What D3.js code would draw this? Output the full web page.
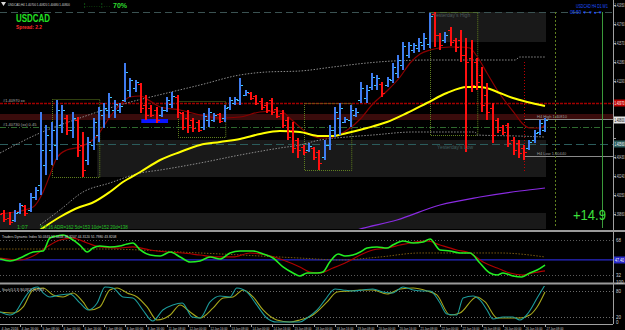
<!DOCTYPE html>
<html><head><meta charset="utf-8">
<script src="https://cdn.jsdelivr.net/npm/d3@7"></script>
<style>html,body{margin:0;padding:0;background:#000;overflow:hidden}svg{display:block;font-family:'Liberation Sans',Arial,sans-serif}</style>
</head><body>
<svg id="c" width="625" height="330"></svg>
<script>
// ---------------- DATA ----------------
const opens=[1.3991,1.3987,1.3982,1.3980,1.3988,1.3994,1.3990,1.4003,1.4015,1.4035,
1.4050,1.4055,1.4075,1.4082,1.4070,1.4080,1.4055,1.4040,1.4055,1.4065,
1.4085,1.4090,1.4090,1.4090,1.4100,1.4110,1.4112,1.4116,1.4095,1.4092,
1.4090,1.4085,1.4090,1.4096,1.4103,1.4087,1.4082,1.4080,1.4078,1.4073,
1.4080,1.4080,1.4086,1.4082,1.4093,1.4097,1.4100,1.4105,1.4107,1.4104,
1.4099,1.4095,1.4100,1.4091,1.4087,1.4080,1.4070,1.4060,1.4053,1.4050,
1.4052,1.4048,1.4043,1.4055,1.4070,1.4082,1.4078,1.4080,1.4085,1.4100,
1.4102,1.4113,1.4115,1.4116,1.4115,1.4120,1.4127,1.4135,1.4145,1.4150,
1.4152,1.4155,1.4156,1.4186,1.4165,1.4160,1.4170,1.4160,1.4160,1.4145,
1.4142,1.4138,1.4125,1.4105,1.4092,1.4080,1.4073,1.4075,1.4060,1.4057,
1.4052,1.4052,1.4060,1.4068,1.4070];
const highs=[1.3992,1.3990,1.3988,1.3990,1.3997,1.3995,1.4007,1.4013,1.4088,1.4075,
1.4078,1.4100,1.4095,1.4085,1.4088,1.4083,1.4068,1.4063,1.4082,1.4093,
1.4097,1.4107,1.4100,1.4097,1.4137,1.4122,1.4120,1.4117,1.4105,1.4095,
1.4093,1.4093,1.4103,1.4108,1.4105,1.4088,1.4090,1.4082,1.4080,1.4087,
1.4092,1.4087,1.4087,1.4095,1.4103,1.4103,1.4122,1.4110,1.4108,1.4105,
1.4102,1.4098,1.4102,1.4093,1.4090,1.4083,1.4078,1.4062,1.4055,1.4057,
1.4053,1.4050,1.4060,1.4075,1.4093,1.4097,1.4083,1.4095,1.4092,1.4118,
1.4115,1.4127,1.4125,1.4118,1.4123,1.4137,1.4145,1.4158,1.4158,1.4157,
1.4162,1.4167,1.4187,1.4188,1.4167,1.4168,1.4173,1.4162,1.4170,1.4162,
1.4160,1.4142,1.4133,1.4117,1.4097,1.4082,1.4075,1.4077,1.4063,1.4060,
1.4055,1.4060,1.4070,1.4080,1.4082];
const lows=[1.3984,1.3978,1.3975,1.3978,1.3986,1.3984,1.3988,1.4000,1.4005,1.4025,
1.4035,1.4040,1.4067,1.4065,1.4062,1.4043,1.4023,1.4035,1.4050,1.4058,
1.4072,1.4082,1.4082,1.4087,1.4098,1.4103,1.4108,1.4087,1.4080,1.4083,
1.4077,1.4083,1.4088,1.4092,1.4082,1.4070,1.4067,1.4068,1.4068,1.4070,
1.4073,1.4078,1.4077,1.4078,1.4090,1.4095,1.4095,1.4104,1.4100,1.4095,
1.4090,1.4087,1.4085,1.4082,1.4072,1.4060,1.4047,1.4042,1.4045,1.4048,
1.4040,1.4030,1.4040,1.4050,1.4063,1.4065,1.4077,1.4073,1.4083,1.4097,
1.4097,1.4110,1.4110,1.4103,1.4113,1.4117,1.4122,1.4130,1.4142,1.4147,
1.4148,1.4150,1.4152,1.4153,1.4150,1.4157,1.4154,1.4148,1.4138,1.4048,
1.4108,1.4110,1.4088,1.4080,1.4057,1.4067,1.4065,1.4053,1.4045,1.4042,
1.4040,1.4050,1.4057,1.4065,1.4068];
const closes=[1.3986,1.3981,1.3978,1.3987,1.3995,1.3987,1.4003,1.4010,1.4050,1.4065,
1.4070,1.4090,1.4090,1.4070,1.4082,1.4050,1.4030,1.4058,1.4078,1.4090,
1.4092,1.4103,1.4096,1.4094,1.4128,1.4120,1.4118,1.4092,1.4085,1.4085,
1.4080,1.4090,1.4100,1.4104,1.4088,1.4073,1.4075,1.4072,1.4070,1.4084,
1.4088,1.4085,1.4079,1.4092,1.4100,1.4101,1.4115,1.4108,1.4102,1.4097,
1.4093,1.4090,1.4088,1.4084,1.4075,1.4063,1.4052,1.4050,1.4048,1.4054,
1.4043,1.4037,1.4055,1.4070,1.4088,1.4092,1.4081,1.4090,1.4088,1.4112,
1.4110,1.4123,1.4122,1.4107,1.4121,1.4133,1.4140,1.4154,1.4155,1.4155,
1.4158,1.4162,1.4184,1.4165,1.4155,1.4165,1.4158,1.4153,1.4145,1.4138,
1.4115,1.4118,1.4095,1.4088,1.4065,1.4070,1.4068,1.4057,1.4050,1.4047,
1.4048,1.4058,1.4067,1.4077,1.4080];

// moving averages / envelopes: [bar index, price]
const maSlow=[[7.8,1.3970],[11.6,1.3983],[15.4,1.3993],[17.7,1.3997],[21.1,1.4008],[23.6,1.4018],[26.9,1.4028],[30.7,1.4040],[34.5,1.4048],[38.3,1.4055],[42.1,1.4058],[45.9,1.4061],[49.7,1.4066],[53.5,1.4069],[57.3,1.4068],[61.1,1.4064],[63.6,1.4064],[66.3,1.4067],[70.1,1.4072],[73.9,1.4078],[77.7,1.4087],[81.5,1.4097],[85.3,1.4107],[89.1,1.4113],[91.6,1.4113],[93.5,1.4111],[95.4,1.4107],[97.9,1.4102],[100.6,1.4098],[104,1.4094]];
const maFast=[[0.2,1.3986],[4.0,1.3989],[6.5,1.3993],[8.4,1.4008],[9.7,1.4025],[11.0,1.4042],[12.9,1.4050],[15.4,1.4053],[17.3,1.4058],[18.7,1.4064],[20.2,1.4076],[21.7,1.4087],[23.4,1.4097],[24.9,1.4103],[26.9,1.4104],[28.8,1.4099],[30.7,1.4093],[34.5,1.4090],[38.3,1.4085],[42.1,1.4082],[45.9,1.4083],[49.7,1.4088],[53.5,1.4089],[56.0,1.4079],[58.7,1.4067],[61.1,1.4062],[63.0,1.4062],[65.0,1.4066],[66.9,1.4072],[68.8,1.4081],[71.2,1.4096],[73.9,1.4109],[76.4,1.4123],[78.3,1.4137],[80.2,1.4146],[82.1,1.4150],[85.9,1.4153],[87.8,1.4153],[89.7,1.4152],[91.0,1.4144],[92.95,1.4127],[94.9,1.4110],[96.8,1.4096],[98.3,1.4086],[99.6,1.4077],[101.1,1.4072],[103.0,1.4072],[104,1.4075]];
const maLong=[[64.9,1.3964],[68.2,1.3970],[75.8,1.3980],[84,1.3995],[91.6,1.4003],[99.2,1.4009],[104,1.4012]];
const envUpper=[[0.2,1.4047],[7.8,1.4067],[15.4,1.4082],[23.0,1.4095],[32.0,1.4107],[38.3,1.4115],[45.9,1.4125],[51.0,1.4128],[57.3,1.4129],[63.6,1.4133],[70.1,1.4137],[75.0,1.4139],[82.7,1.4140],[98.3,1.4140],[99.2,1.4143],[104,1.4143]];
const envLower=[[7.8,1.3975],[11.6,1.3990],[16.0,1.4008],[21.1,1.4017],[26.9,1.4027],[30.7,1.4030],[38.3,1.4037],[45.9,1.4045],[53.5,1.4052],[57.3,1.4055],[61.1,1.4060],[66.3,1.4063],[71.2,1.4065],[78.9,1.4068],[90.7,1.4068],[91.0,1.4065],[98.7,1.4064],[104,1.4063]];

// levels, zones, session boxes
const zones=[{from:82,to:104,top:1.4188,bottom:1.4158},{from:18.7,to:104,top:1.4060,bottom:1.4023},{from:0,to:104,top:1.3987,bottom:1.3970}];
const sessionBoxes=[{from:10,to:19,top:1.4101,bottom:1.4023},{from:34,to:43,top:1.4099,bottom:1.4063},{from:58,to:67,top:1.4097,bottom:1.4030},{from:82,to:91,top:1.4188,bottom:1.4065}];
const levelTop=1.4188, levelRed=1.4097, bandTop=1.4086, bandBottom=1.4080, levelGreen=1.4073, levelTeal=1.4056;
const h4High=1.4081, h4Low=1.4044;
const blueMark={from:27.1,to:32.2,top:1.4081,bottom:1.4077};
const priceTicks=[1.4195,1.4176,1.4157,1.4138,1.4119,1.4100,1.4081,1.4062,1.4043,1.4024,1.4005,1.3986];

// Traders Dynamic Index: [bar index, value]
const tdiGreen=[[0.2,48.4],[2.1,46.4],[4.0,49.4],[6.5,55.6],[8.4,56.7],[9.7,70.0],[11.0,72.1],[12.2,73.1],[13.5,70.0],[15.4,62.8],[16.8,55.6],[17.9,59.7],[19.2,61.8],[21.1,60.8],[23.0,61.8],[24.4,63.9],[25.5,64.9],[26.9,57.7],[28.8,52.5],[30.7,51.5],[32.6,55.6],[34.5,50.5],[36.4,45.3],[38.3,46.4],[40.2,50.5],[42.1,48.4],[44.0,54.6],[45.9,56.7],[48.4,56.7],[50.3,53.6],[52.2,49.4],[54.1,40.2],[56.0,34.0],[57.3,30.9],[58.7,34.0],[60.6,34.0],[61.7,35.0],[63.0,45.3],[64.6,53.6],[65.9,51.5],[67.4,52.5],[68.8,55.6],[70.1,59.7],[72.0,60.8],[73.9,59.7],[75.0,62.8],[76.95,67.0],[78.9,64.9],[80.8,65.9],[82.1,69.0],[84.0,57.7],[85.9,56.7],[87.8,54.6],[89.7,54.6],[91.6,44.3],[93.5,34.0],[94.9,31.9],[96.0,34.0],[97.9,30.9],[99.6,29.9],[101.1,34.0],[102.5,37.1],[104,42.2]];
const tdiRed=[[0.2,49.4],[4.0,47.4],[6.5,51.5],[9.1,60.8],[11.6,68.0],[14.1,70.0],[16.8,64.9],[19.2,60.8],[22.5,59.7],[25.5,60.8],[28.8,57.7],[32.0,55.6],[35.0,54.6],[38.3,52.5],[41.5,50.5],[44.6,50.5],[47.8,54.6],[51.0,52.5],[54.1,47.4],[57.3,40.2],[59.2,35.0],[61.1,34.0],[63.6,39.1],[66.3,45.3],[68.8,52.5],[71.2,57.7],[73.9,59.7],[76.4,62.8],[78.3,64.9],[81.5,67.0],[84.0,62.8],[87.2,57.7],[89.7,54.6],[92.2,45.3],[94.9,39.1],[97.3,34.0],[99.8,31.9],[101.7,34.0],[104,36.1]];
const tdiBand=[[0.2,58.7],[19.2,58.7],[38.3,54.6],[57.3,49.4],[65.0,47.4],[72.6,50.5],[80.2,54.6],[95.4,54.6],[104,50.5]];
const tdiBase=47.4, tdiLevels=[68,32];

// Stochastic: [bar index, value]
const stochMain=[[0.2,31.6],[2.1,24.7],[3.0,29.3],[4.6,59.3],[6.5,87.0],[7.4,89.3],[8.4,75.5],[9.7,66.2],[11.6,70.9],[13.5,73.2],[15.4,52.4],[17.0,36.2],[18.7,52.4],[20.2,89.3],[21.7,87.0],[23.6,66.2],[25.5,63.9],[27.4,36.2],[29.3,10.8],[31.2,36.2],[33.1,47.8],[34.9,52.4],[36.8,20.1],[38.3,17.8],[40.2,54.7],[42.1,68.5],[44.0,66.2],[45.3,87.0],[47.2,77.8],[49.1,47.8],[51.0,17.8],[52.9,8.5],[54.9,8.5],[57.3,8.5],[58.7,17.8],[60.6,36.2],[62.1,59.3],[64.0,84.7],[65.5,82.4],[67.4,80.1],[69.3,82.4],[71.2,84.7],[73.1,77.8],[75.0,75.5],[76.95,89.3],[78.9,82.4],[80.8,80.1],[82.1,80.1],[84.0,52.4],[85.3,27.0],[87.2,24.7],[88.4,63.9],[90.3,68.5],[91.6,59.3],[92.95,36.2],[94.1,15.5],[96.0,20.1],[97.9,20.1],[99.2,13.2],[100.8,29.3],[102.5,63.9],[104,93.9]];
const stochSignal=[[0.2,31.6],[2.7,29.3],[4.6,43.2],[6.5,82.4],[8.4,87.0],[10.3,70.9],[12.2,66.2],[14.1,75.5],[16.0,54.7],[17.3,36.2],[19.2,43.2],[21.1,82.4],[22.5,87.0],[24.4,75.5],[26.3,66.2],[28.2,43.2],[30.1,13.2],[32.6,24.7],[34.5,47.8],[36.4,31.6],[38.3,17.8],[40.8,40.9],[42.7,63.9],[44.6,66.2],[46.5,82.4],[48.4,66.2],[50.3,36.2],[52.9,13.2],[55.4,8.5],[57.3,13.2],[59.8,24.7],[62.5,54.7],[64.4,77.8],[66.9,80.1],[68.8,82.4],[71.2,82.4],[73.9,73.2],[76.4,84.7],[78.9,87.0],[81.5,80.1],[83.4,70.9],[85.9,24.7],[87.8,29.3],[91.0,66.2],[92.6,54.7],[94.9,17.8],[96.8,17.8],[99.2,17.8],[101.1,24.7],[102.5,43.2],[104,77.8]];
const stochLevels=[80,20];

// time axis labels: [bar index, text]
const timeLabels=[[0,"4 Jan 2016"],[4,"4 Jan 16:00"],[8,"5 Jan 08:00"],[12,"6 Jan 00:00"],[16,"6 Jan 16:00"],[20,"7 Jan 08:00"],[24,"8 Jan 00:00"],[28,"8 Jan 16:00"],[32,"11 Jan 08:00"],[36,"12 Jan 00:00"],[40,"12 Jan 16:00"],[44,"13 Jan 08:00"],[48,"14 Jan 00:00"],[52,"14 Jan 16:00"],[56,"15 Jan 08:00"],[60,"18 Jan 00:00"],[64,"18 Jan 16:00"],[68,"19 Jan 08:00"],[72,"20 Jan 00:00"],[76,"20 Jan 16:00"],[80,"21 Jan 08:00"],[84,"22 Jan 00:00"],[88,"22 Jan 16:00"],[92,"25 Jan 08:00"],[96,"26 Jan 00:00"],[100,"26 Jan 16:00"],[104,"27 Jan 08:00"]];

// ---------------- DRAW ----------------
const svg=d3.select('#c');
const AX=613;
const x=d3.scaleLinear().domain([0,104]).range([-1,545]);
const y=d3.scaleLinear().domain([1.3972,1.42]).range([228,0]);
const yT=d3.scaleLinear().domain([0,100]).range([306,208.9]);
const yS=d3.scaleLinear().domain([0,100]).range([325.7,282.3]);
svg.append('rect').attr('width',625).attr('height',330).attr('fill','#000');
const defs=svg.append('defs');
[['cm',0,0,AX,229],['ct',0,233,AX,49],['cs',0,286,AX,38]].forEach(([id,a,b,w,h])=>defs.append('clipPath').attr('id',id).append('rect').attr('x',a).attr('y',b).attr('width',w).attr('height',h));
const gm=svg.append('g').attr('clip-path','url(#cm)');

gm.selectAll('.zone').data(zones).join('rect').attr('x',d=>x(d.from)).attr('width',d=>x(d.to)-x(d.from)+1)
 .attr('y',d=>y(d.top)).attr('height',d=>y(d.bottom)-y(d.top)).attr('fill','#191919');
gm.append('rect').attr('x',0).attr('width',AX).attr('y',y(bandTop)).attr('height',y(bandBottom)-y(bandTop)).attr('fill','#3a0c0c');
const hline=(p,col,dash,w,x0=0,x1=AX)=>gm.append('line').attr('x1',x0).attr('x2',x1).attr('y1',Math.round(y(p))+0.5).attr('y2',Math.round(y(p))+0.5).attr('stroke',col).attr('stroke-width',w||1).attr('stroke-dasharray',dash);
hline(levelTop,'#3b5252','7,4');
hline(levelRed,'#a00000','3,1',1.5);
hline(levelGreen,'#2f6a2f','6,2,1,2');
hline(levelTeal,'#2b5c5c','8,4');
hline(h4High,'#8a8a8a',null,1,x(100),AX);
hline(h4Low,'#8a8a8a',null,1,x(100),AX);
gm.selectAll('.box').data(sessionBoxes).join('rect').attr('x',d=>Math.round(x(d.from))+0.5).attr('width',d=>x(d.to)-x(d.from))
 .attr('y',d=>Math.round(y(d.top))+0.5).attr('height',d=>y(d.bottom)-y(d.top)).attr('fill','none').attr('stroke','#5f7f1f').attr('stroke-dasharray','1,1');
const vline=(xx,p0,p1,col,dash)=>gm.append('line').attr('x1',Math.round(xx)+0.5).attr('x2',Math.round(xx)+0.5).attr('y1',y(p0)).attr('y2',y(p1)).attr('stroke',col).attr('stroke-dasharray',dash);
vline(x(100),1.4138,1.4027,'#c00000','1,2');
vline(x(106),levelTop,1.3972,'#5f7f1f','2,2');
vline(x(114.9),levelTop,1.3972,'#3a9a3a',null);
const ln=(sx,sy)=>d3.line().x(d=>sx(d[0])).y(d=>sy(d[1])).curve(d3.curveMonotoneX);
gm.append('path').attr('d',ln(x,y)(envUpper)).attr('fill','none').attr('stroke','#8c8c8c').attr('stroke-dasharray','1.5,1.5');
gm.append('path').attr('d',ln(x,y)(envLower)).attr('fill','none').attr('stroke','#8c8c8c').attr('stroke-dasharray','1.5,1.5');
gm.append('path').attr('d',ln(x,y)(maLong)).attr('fill','none').attr('stroke','#8a2be2').attr('stroke-width',1.2);
gm.append('path').attr('d',ln(x,y)(maFast)).attr('fill','none').attr('stroke','#8b0000').attr('stroke-width',1.2);
gm.append('path').attr('d',ln(x,y)(maSlow)).attr('fill','none').attr('stroke','#ffff00').attr('stroke-width',2);
gm.append('rect').attr('x',x(blueMark.from)).attr('width',x(blueMark.to)-x(blueMark.from)).attr('y',y(blueMark.top)).attr('height',y(blueMark.bottom)-y(blueMark.top)).attr('fill','#0a14ff');
const bars=d3.range(opens.length).map(i=>({i,o:opens[i],h:highs[i],l:lows[i],c:closes[i]}));
const bg=gm.append('g');
bars.forEach(d=>{
  const up=d.c>=d.o, col=up?'#3f7cf0':'#ff1010', tick=up?'#40c8ff':'#ff1010';
  const cx=Math.round(x(d.i));
  bg.append('rect').attr('x',cx-1).attr('width',2).attr('y',y(d.h)).attr('height',Math.max(1,y(d.l)-y(d.h))).attr('fill',col);
  bg.append('rect').attr('x',cx-3).attr('width',2).attr('y',Math.round(y(d.o))).attr('height',1).attr('fill',tick);
  bg.append('rect').attr('x',cx+1).attr('width',2).attr('y',Math.round(y(d.c))).attr('height',1).attr('fill',tick);
});
const txt=(g,t,xx,yy,size,col,extra)=>{const e=g.append('text').attr('x',xx).attr('y',yy).attr('font-size',size).attr('fill',col).text(t);if(extra)extra(e);return e;};
// squeeze a text horizontally into width w (keeps it as real text)
const fit=w=>e=>{const n=e.node().getComputedTextLength();if(n>w){const x0=+e.attr('x'),y0=+e.attr('y');e.attr('x',0).attr('y',0).attr('transform',`translate(${x0},${y0}) scale(${(w/n).toFixed(4)},1)`);}};
const last=bars[bars.length-1];
txt(svg,"USDCAD,H4 "+[last.o,last.h,last.l,last.c].map(v=>v.toFixed(5)).join(' '),8,6,4,'#d8d8d8',fit(62));
svg.append('path').attr('d','M1,2 L6,2 L3.5,6 Z').attr('fill','#d8d8d8');
txt(svg,"¦ . . . . . . ¦ . . .",84,7,5,'#2fbf2f',fit(26));
txt(svg,"70%",113,8,7,'#2fdc2f',e=>e.attr('font-weight','bold'));
txt(svg,"USDCAD",16,22,10,'#22e022',e=>{e.attr('font-weight','bold');fit(34)(e);});
txt(svg,"Spread: 2.2",16,29,5.5,'#ff2a2a',e=>{e.attr('font-weight','bold');fit(26)(e);});
txt(svg,"Yesterday's High",433,17,5,'#505a5a');
txt(svg,"Yesterday's Low",437,149,5,'#3f5f5f');
txt(svg,"H4 High  "+h4High.toFixed(5),537,y(h4High)-1,4,'#9a9a9a',fit(34));
txt(svg,"H4 Low  "+h4Low.toFixed(5),537,y(h4Low)-1,4,'#9a9a9a',fit(34));
txt(svg,"#"+levelRed.toFixed(5)+" xx",3,y(levelRed)-1,4,'#b0b0b0');
txt(svg,"#"+levelGreen.toFixed(5)+" (xx) 0.45",3,y(levelGreen)-1,4,'#b0b0b0');
txt(svg,"1:07",17,229,5.5,'#22c022');
txt(svg,"X:5:16  ADR=162  5d=153  10d=152  20d=138",40,229,5.5,'#22c022',fit(88));
txt(svg,"+14.9",573,220,14,'#3ce03c',fit(33));
txt(svg,"USDCAD H4 D1 W1",576,8,4.5,'#1e50ff',fit(32));
txt(svg,"05:59 ▼ ▼ ● ▼",570,14,4.5,'#1e50ff',fit(38));
svg.append('line').attr('x1',AX+0.5).attr('x2',AX+0.5).attr('y1',0).attr('y2',324).attr('stroke','#a0a0a0');
const tags=[levelRed,last.c,levelTeal];
priceTicks.forEach(p=>{
  svg.append('line').attr('x1',AX).attr('x2',AX+3).attr('y1',Math.round(y(p))+0.5).attr('y2',Math.round(y(p))+0.5).attr('stroke','#a0a0a0');
  if(tags.some(t=>Math.abs(y(t)-y(p))<7)) return;
  txt(svg,p.toFixed(5),AX+1.5,Math.max(y(p)+2,6),4.5,'#d0d0d0',fit(10));
});
const tag=(p,bgc,fc)=>{svg.append('rect').attr('x',AX+1).attr('y',y(p)-3.5).attr('width',11).attr('height',7).attr('fill',bgc);txt(svg,p.toFixed(5),AX+1.5,y(p)+2,4.5,fc,fit(10));};
tag(levelRed,'#c00000','#fff');
tag(last.c,'#e6e6e6','#000');
tag(levelTeal,'#2b5c5c','#fff');
[231,283.5].forEach(v=>svg.append('rect').attr('x',0).attr('y',v-1).attr('width',625).attr('height',2).attr('fill','#9a9a9a'));

const gt=svg.append('g').attr('clip-path','url(#ct)');
tdiLevels.forEach(v=>gt.append('line').attr('x1',0).attr('x2',AX).attr('y1',Math.round(yT(v))+0.5).attr('y2',Math.round(yT(v))+0.5).attr('stroke','#5a5a5a').attr('stroke-dasharray','1,2'));
gt.append('line').attr('x1',0).attr('x2',AX).attr('y1',yT(tdiBase)).attr('y2',yT(tdiBase)).attr('stroke','#2828c8').attr('stroke-width',1.2);
gt.append('path').attr('d',ln(x,yT)(tdiBand)).attr('fill','none').attr('stroke','#7a5a10').attr('stroke-dasharray','1.5,1.5');
gt.append('path').attr('d',ln(x,yT)(tdiRed)).attr('fill','none').attr('stroke','#b00000').attr('stroke-width',1.2);
gt.append('path').attr('d',ln(x,yT)(tdiGreen)).attr('fill','none').attr('stroke','#22ee22').attr('stroke-width',1.6);
txt(svg,"Traders Dynamic Index 50.0345 51.0448 48.9207 44.3120 51.7980 43.8208",2,238,4,'#d8d8d8',fit(115));
tdiLevels.forEach(v=>txt(svg,String(v),AX+3,yT(v)+2,4.5,'#d0d0d0'));
svg.append('rect').attr('x',AX+1).attr('y',yT(tdiBase)-3.5).attr('width',11).attr('height',7).attr('fill','#2828c8');
txt(svg,tdiBase.toFixed(2),AX+2,yT(tdiBase)+2,4.5,'#fff',fit(9));

const gs=svg.append('g').attr('clip-path','url(#cs)');
stochLevels.forEach(v=>gs.append('line').attr('x1',0).attr('x2',AX).attr('y1',Math.round(yS(v))+0.5).attr('y2',Math.round(yS(v))+0.5).attr('stroke','#6a6a6a').attr('stroke-dasharray','1,2'));
gs.append('path').attr('d',ln(x,yS)(stochSignal)).attr('fill','none').attr('stroke','#a8a81c').attr('stroke-width',1.1);
gs.append('path').attr('d',ln(x,yS)(stochMain)).attr('fill','none').attr('stroke','#1c9c9c').attr('stroke-width',1.1);
txt(svg,"Stoch(5,3,3) 94.0913 76.9333",2,291,4,'#d8d8d8',fit(42));
[100,80,20,0].forEach(v=>txt(svg,String(v),AX+3,Math.min(yS(v)+2,324),4.5,'#d0d0d0'));

timeLabels.forEach(([i,t])=>{
  svg.append('line').attr('x1',Math.round(x(i))+0.5).attr('x2',Math.round(x(i))+0.5).attr('y1',324).attr('y2',327).attr('stroke','#a0a0a0');
  txt(svg,t,Math.max(0,Math.round(x(i)))+1.5,330,4,'#c8c8c8',fit(17));
});
svg.append('line').attr('x1',0).attr('x2',AX).attr('y1',324.5).attr('y2',324.5).attr('stroke','#a0a0a0');
</script>
</body></html>
